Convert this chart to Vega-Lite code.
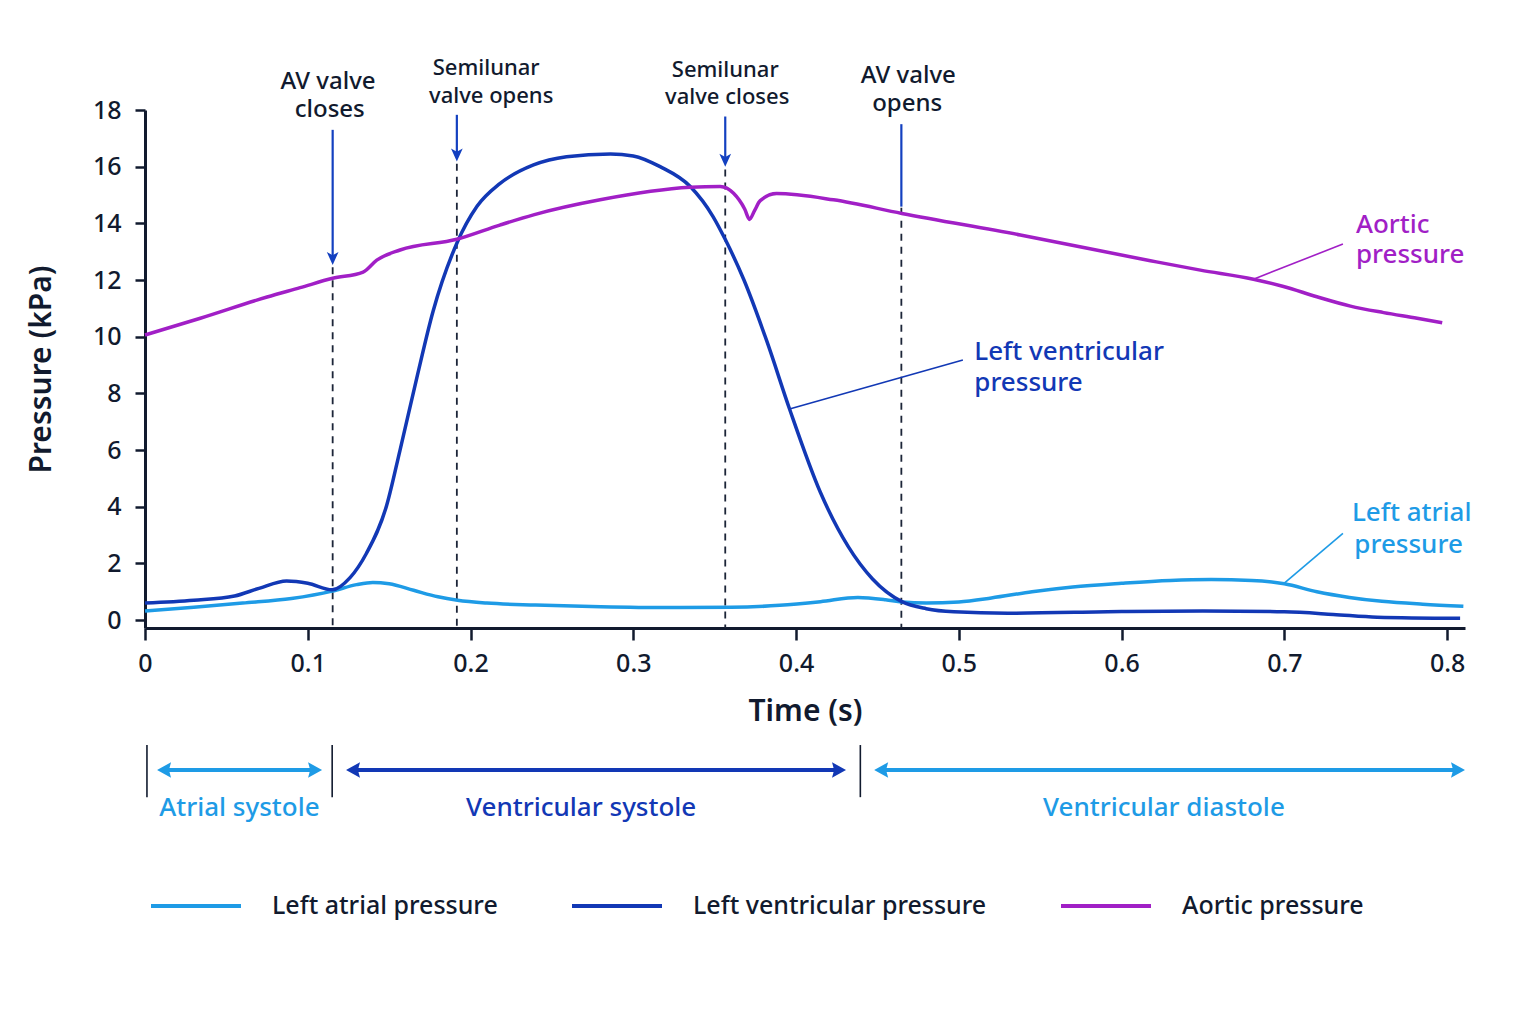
{
  "$schema": "https://vega.github.io/schema/vega-lite/v6.json",
  "width": 1320,
  "height": 518,
  "autosize": {"type": "none"},
  "padding": {"left": 145, "top": 110, "right": 71, "bottom": 396},
  "background": "white",
  "config": {
    "view": {"stroke": null},
    "font": "Noto Sans",
    "text": {"font": "Noto Sans"}
  },
  "datasets": {
    "curves": [
      {"series": "Left atrial pressure", "t": 0, "p": 0.32},
      {"series": "Left atrial pressure", "t": 0.03, "p": 0.45},
      {"series": "Left atrial pressure", "t": 0.06, "p": 0.6},
      {"series": "Left atrial pressure", "t": 0.09, "p": 0.76},
      {"series": "Left atrial pressure", "t": 0.115, "p": 1.02},
      {"series": "Left atrial pressure", "t": 0.13, "p": 1.25},
      {"series": "Left atrial pressure", "t": 0.14, "p": 1.33},
      {"series": "Left atrial pressure", "t": 0.15, "p": 1.28},
      {"series": "Left atrial pressure", "t": 0.165, "p": 1.05},
      {"series": "Left atrial pressure", "t": 0.18, "p": 0.82},
      {"series": "Left atrial pressure", "t": 0.192, "p": 0.7},
      {"series": "Left atrial pressure", "t": 0.21, "p": 0.6},
      {"series": "Left atrial pressure", "t": 0.24, "p": 0.53},
      {"series": "Left atrial pressure", "t": 0.28, "p": 0.47},
      {"series": "Left atrial pressure", "t": 0.32, "p": 0.44},
      {"series": "Left atrial pressure", "t": 0.36, "p": 0.45},
      {"series": "Left atrial pressure", "t": 0.39, "p": 0.52},
      {"series": "Left atrial pressure", "t": 0.415, "p": 0.65},
      {"series": "Left atrial pressure", "t": 0.438, "p": 0.8},
      {"series": "Left atrial pressure", "t": 0.455, "p": 0.72},
      {"series": "Left atrial pressure", "t": 0.465, "p": 0.64},
      {"series": "Left atrial pressure", "t": 0.48, "p": 0.6},
      {"series": "Left atrial pressure", "t": 0.5, "p": 0.64},
      {"series": "Left atrial pressure", "t": 0.52, "p": 0.78},
      {"series": "Left atrial pressure", "t": 0.545, "p": 1.0},
      {"series": "Left atrial pressure", "t": 0.57, "p": 1.17},
      {"series": "Left atrial pressure", "t": 0.6, "p": 1.3},
      {"series": "Left atrial pressure", "t": 0.63, "p": 1.4},
      {"series": "Left atrial pressure", "t": 0.655, "p": 1.43},
      {"series": "Left atrial pressure", "t": 0.68, "p": 1.4},
      {"series": "Left atrial pressure", "t": 0.7, "p": 1.28},
      {"series": "Left atrial pressure", "t": 0.72, "p": 1.0},
      {"series": "Left atrial pressure", "t": 0.74, "p": 0.8},
      {"series": "Left atrial pressure", "t": 0.76, "p": 0.66},
      {"series": "Left atrial pressure", "t": 0.785, "p": 0.56},
      {"series": "Left atrial pressure", "t": 0.81, "p": 0.49},
      {"series": "Left ventricular pressure", "t": 0, "p": 0.6},
      {"series": "Left ventricular pressure", "t": 0.03, "p": 0.7},
      {"series": "Left ventricular pressure", "t": 0.055, "p": 0.85},
      {"series": "Left ventricular pressure", "t": 0.07, "p": 1.12},
      {"series": "Left ventricular pressure", "t": 0.087, "p": 1.38},
      {"series": "Left ventricular pressure", "t": 0.1, "p": 1.3},
      {"series": "Left ventricular pressure", "t": 0.115, "p": 1.07},
      {"series": "Left ventricular pressure", "t": 0.126, "p": 1.5},
      {"series": "Left ventricular pressure", "t": 0.136, "p": 2.35},
      {"series": "Left ventricular pressure", "t": 0.1485, "p": 4.05},
      {"series": "Left ventricular pressure", "t": 0.1567, "p": 6.0},
      {"series": "Left ventricular pressure", "t": 0.167, "p": 8.55},
      {"series": "Left ventricular pressure", "t": 0.177, "p": 10.9},
      {"series": "Left ventricular pressure", "t": 0.1916, "p": 13.3},
      {"series": "Left ventricular pressure", "t": 0.204, "p": 14.6},
      {"series": "Left ventricular pressure", "t": 0.218, "p": 15.4},
      {"series": "Left ventricular pressure", "t": 0.2387, "p": 16.06},
      {"series": "Left ventricular pressure", "t": 0.259, "p": 16.35},
      {"series": "Left ventricular pressure", "t": 0.286, "p": 16.45},
      {"series": "Left ventricular pressure", "t": 0.3, "p": 16.38},
      {"series": "Left ventricular pressure", "t": 0.3165, "p": 16.0},
      {"series": "Left ventricular pressure", "t": 0.335, "p": 15.3},
      {"series": "Left ventricular pressure", "t": 0.349, "p": 14.24},
      {"series": "Left ventricular pressure", "t": 0.3567, "p": 13.41},
      {"series": "Left ventricular pressure", "t": 0.368, "p": 12.0},
      {"series": "Left ventricular pressure", "t": 0.382, "p": 9.85},
      {"series": "Left ventricular pressure", "t": 0.396, "p": 7.45},
      {"series": "Left ventricular pressure", "t": 0.415, "p": 4.5},
      {"series": "Left ventricular pressure", "t": 0.432, "p": 2.6},
      {"series": "Left ventricular pressure", "t": 0.447, "p": 1.45},
      {"series": "Left ventricular pressure", "t": 0.465, "p": 0.65},
      {"series": "Left ventricular pressure", "t": 0.48, "p": 0.4},
      {"series": "Left ventricular pressure", "t": 0.497, "p": 0.29},
      {"series": "Left ventricular pressure", "t": 0.53, "p": 0.24},
      {"series": "Left ventricular pressure", "t": 0.6, "p": 0.3},
      {"series": "Left ventricular pressure", "t": 0.65, "p": 0.32},
      {"series": "Left ventricular pressure", "t": 0.7, "p": 0.29},
      {"series": "Left ventricular pressure", "t": 0.73, "p": 0.2},
      {"series": "Left ventricular pressure", "t": 0.757, "p": 0.1},
      {"series": "Left ventricular pressure", "t": 0.808, "p": 0.06},
      {"series": "Aortic pressure", "t": 0, "p": 10.06},
      {"series": "Aortic pressure", "t": 0.034, "p": 10.65},
      {"series": "Aortic pressure", "t": 0.075, "p": 11.4},
      {"series": "Aortic pressure", "t": 0.0953, "p": 11.73},
      {"series": "Aortic pressure", "t": 0.1153, "p": 12.06},
      {"series": "Aortic pressure", "t": 0.134, "p": 12.28},
      {"series": "Aortic pressure", "t": 0.1424, "p": 12.7},
      {"series": "Aortic pressure", "t": 0.1567, "p": 13.06},
      {"series": "Aortic pressure", "t": 0.1916, "p": 13.44},
      {"series": "Aortic pressure", "t": 0.218, "p": 13.94},
      {"series": "Aortic pressure", "t": 0.2387, "p": 14.3},
      {"series": "Aortic pressure", "t": 0.2796, "p": 14.83},
      {"series": "Aortic pressure", "t": 0.335, "p": 15.27},
      {"series": "Aortic pressure", "t": 0.3534, "p": 15.3},
      {"series": "Aortic pressure", "t": 0.3616, "p": 15.06},
      {"series": "Aortic pressure", "t": 0.3685, "p": 14.5},
      {"series": "Aortic pressure", "t": 0.3714, "p": 14.14},
      {"series": "Aortic pressure", "t": 0.3745, "p": 14.45},
      {"series": "Aortic pressure", "t": 0.378, "p": 14.8},
      {"series": "Aortic pressure", "t": 0.388, "p": 15.05},
      {"series": "Aortic pressure", "t": 0.423, "p": 14.83},
      {"series": "Aortic pressure", "t": 0.465, "p": 14.35},
      {"series": "Aortic pressure", "t": 0.5378, "p": 13.59},
      {"series": "Aortic pressure", "t": 0.6177, "p": 12.68},
      {"series": "Aortic pressure", "t": 0.6484, "p": 12.35},
      {"series": "Aortic pressure", "t": 0.681, "p": 12.03},
      {"series": "Aortic pressure", "t": 0.6995, "p": 11.77},
      {"series": "Aortic pressure", "t": 0.72, "p": 11.41},
      {"series": "Aortic pressure", "t": 0.7406, "p": 11.08},
      {"series": "Aortic pressure", "t": 0.761, "p": 10.85},
      {"series": "Aortic pressure", "t": 0.7816, "p": 10.65},
      {"series": "Aortic pressure", "t": 0.797, "p": 10.49}
    ],
    "guides": [
      {"event": "AV valve closes", "t": 0.1153, "p": 12.45, "p2": -0.28},
      {"event": "Semilunar valve opens", "t": 0.1916, "p": 16.1, "p2": -0.28},
      {"event": "Semilunar valve closes", "t": 0.3565, "p": 15.9, "p2": -0.28},
      {"event": "AV valve opens", "t": 0.4647, "p": 14.55, "p2": -0.28}
    ],
    "arrows": [
      {"event": "AV valve closes", "t": 0.1153, "p": 17.3, "p2": 12.8},
      {"event": "Semilunar valve opens", "t": 0.1916, "p": 17.83, "p2": 16.4},
      {"event": "Semilunar valve closes", "t": 0.3565, "p": 17.77, "p2": 16.25},
      {"event": "AV valve opens", "t": 0.4647, "p": 17.5, "p2": 14.59}
    ],
    "heads": [
      {"event": "AV valve closes", "t": 0.1153, "p": 12.53},
      {"event": "Semilunar valve opens", "t": 0.1916, "p": 16.18},
      {"event": "Semilunar valve closes", "t": 0.3565, "p": 16.0}
    ],
    "notes": [
      {"text": "AV valve", "group": "av", "t": 0.1125, "p": 18.99},
      {"text": "closes", "group": "av", "t": 0.1135, "p": 18.0},
      {"text": "Semilunar", "group": "semi", "t": 0.2096, "p": 19.48},
      {"text": "valve opens", "group": "semi", "t": 0.2127, "p": 18.5},
      {"text": "Semilunar", "group": "semi", "t": 0.3565, "p": 19.41},
      {"text": "valve closes", "group": "semi", "t": 0.3577, "p": 18.46},
      {"text": "AV valve", "group": "av", "t": 0.469, "p": 19.2},
      {"text": "opens", "group": "av", "t": 0.4683, "p": 18.21}
    ],
    "leaders": [
      {"series": "Aortic pressure", "t": 0.681, "p": 12.03, "t2": 0.736, "p2": 13.27},
      {"series": "Left ventricular pressure", "t": 0.396, "p": 7.45, "t2": 0.5025, "p2": 9.18},
      {"series": "Left atrial pressure", "t": 0.7, "p": 1.3, "t2": 0.736, "p2": 3.06}
    ],
    "serieslabels": [
      {"series": "Aortic pressure", "text": "Aortic", "t": 0.744, "p": 13.94},
      {"series": "Aortic pressure", "text": "pressure", "t": 0.744, "p": 12.88},
      {"series": "Left ventricular pressure", "text": "Left ventricular", "t": 0.5095, "p": 9.46},
      {"series": "Left ventricular pressure", "text": "pressure", "t": 0.5095, "p": 8.37},
      {"series": "Left atrial pressure", "text": "Left atrial", "t": 0.7415, "p": 3.78},
      {"series": "Left atrial pressure", "text": "pressure", "t": 0.743, "p": 2.65}
    ],
    "separators": [
      {"t": 0.0012, "p": -4.41, "p2": -6.25},
      {"t": 0.115, "p": -4.41, "p2": -6.25},
      {"t": 0.4395, "p": -4.41, "p2": -6.25}
    ],
    "phases": [
      {"phase": "Atrial systole", "tone": "light", "t": 0.011, "t2": 0.105, "p": -5.29},
      {"phase": "Ventricular systole", "tone": "dark", "t": 0.127, "t2": 0.427, "p": -5.29},
      {"phase": "Ventricular diastole", "tone": "light", "t": 0.451, "t2": 0.807, "p": -5.29}
    ],
    "phaseheads": [
      {"tone": "light", "dir": "left", "t": 0.0074, "p": -5.29},
      {"tone": "light", "dir": "right", "t": 0.1088, "p": -5.29},
      {"tone": "dark", "dir": "left", "t": 0.1235, "p": -5.29},
      {"tone": "dark", "dir": "right", "t": 0.4307, "p": -5.29},
      {"tone": "light", "dir": "left", "t": 0.448, "p": -5.29},
      {"tone": "light", "dir": "right", "t": 0.811, "p": -5.29}
    ],
    "phaselabels": [
      {"text": "Atrial systole", "tone": "light", "t": 0.058, "p": -6.64},
      {"text": "Ventricular systole", "tone": "dark", "t": 0.268, "p": -6.64},
      {"text": "Ventricular diastole", "tone": "light", "t": 0.626, "p": -6.64}
    ]
  },
  "encoding": {
    "x": {
      "field": "t",
      "type": "quantitative",
      "scale": {"domain": [0, 0.811], "nice": false, "zero": false},
      "axis": {
        "title": "Time (s)",
        "values": [0, 0.1, 0.2, 0.3, 0.4, 0.5, 0.6, 0.7, 0.8],
        "format": "~g",
        "grid": false,
        "domainColor": "#111a2e",
        "domainWidth": 3,
        "tickColor": "#111a2e",
        "tickWidth": 2.5,
        "tickSize": 12,
        "labelFont": "Noto Sans",
        "labelFontSize": 25,
        "labelFontWeight": 500,
        "labelColor": "#111a2e",
        "labelPadding": 11,
        "labelFlush": false,
        "titleFont": "Noto Sans",
        "titleFontSize": 30,
        "titleFontWeight": 600,
        "titleColor": "#111a2e",
        "titlePadding": 20
      }
    },
    "y": {
      "field": "p",
      "type": "quantitative",
      "scale": {"domain": [-0.28, 18], "nice": false, "zero": false},
      "axis": {
        "title": "Pressure (kPa)",
        "values": [0, 2, 4, 6, 8, 10, 12, 14, 16, 18],
        "grid": false,
        "domainColor": "#111a2e",
        "domainWidth": 3,
        "tickColor": "#111a2e",
        "tickWidth": 2.5,
        "tickSize": 10,
        "labelFont": "Noto Sans",
        "labelFontSize": 25,
        "labelFontWeight": 500,
        "labelColor": "#111a2e",
        "labelPadding": 14,
        "titleFont": "Noto Sans",
        "titleFontSize": 30,
        "titleFontWeight": 600,
        "titleColor": "#111a2e",
        "titlePadding": 36
      }
    }
  },
  "layer": [
    {
      "data": {"name": "guides"},
      "mark": {"type": "rule", "strokeDash": [7, 6], "strokeWidth": 1.8, "color": "#1c2538"},
      "encoding": {"y2": {"field": "p2"}}
    },
    {
      "data": {"name": "arrows"},
      "mark": {"type": "rule", "strokeWidth": 2.2, "color": "#1340c0"},
      "encoding": {"y2": {"field": "p2"}}
    },
    {
      "data": {"name": "heads"},
      "mark": {"type": "point", "shape": "M0,0L-0.9,-2L0,-1.5L0.9,-2Z", "size": 169, "filled": true, "opacity": 1, "color": "#1340c0", "strokeWidth": 0},
      "encoding": {}
    },
    {
      "data": {"name": "curves"},
      "mark": {"type": "line", "interpolate": "monotone", "strokeWidth": 3.5},
      "encoding": {
        "color": {
          "field": "series",
          "type": "nominal",
          "scale": {
            "domain": ["Left atrial pressure", "Left ventricular pressure", "Aortic pressure"],
            "range": ["#1e9be6", "#1238b5", "#a11fc6"]
          },
          "legend": {
            "orient": "none",
            "legendX": 4,
            "legendY": 749,
            "direction": "horizontal",
            "title": null,
            "symbolType": "stroke",
            "symbolSize": 8100,
            "symbolStrokeWidth": 4,
            "labelFont": "Noto Sans",
            "labelFontSize": 25,
            "labelFontWeight": 500,
            "labelColor": "#111a2e",
            "labelLimit": 500,
            "labelOffset": 29,
            "columnPadding": 66
          }
        }
      }
    },
    {
      "data": {"name": "leaders"},
      "mark": {"type": "rule", "strokeWidth": 1.6},
      "encoding": {
        "x2": {"field": "t2"},
        "y2": {"field": "p2"},
        "color": {"field": "series", "type": "nominal", "legend": null}
      }
    },
    {
      "data": {"name": "serieslabels"},
      "mark": {"type": "text", "align": "left", "baseline": "middle", "fontSize": 26, "fontWeight": 500},
      "encoding": {
        "text": {"field": "text"},
        "color": {"field": "series", "type": "nominal", "legend": null}
      }
    },
    {
      "data": {"name": "notes"},
      "transform": [{"filter": "datum.group === 'av'"}],
      "mark": {"type": "text", "align": "center", "baseline": "middle", "fontSize": 24, "fontWeight": 500, "color": "#111a2e"},
      "encoding": {"text": {"field": "text"}}
    },
    {
      "data": {"name": "notes"},
      "transform": [{"filter": "datum.group === 'semi'"}],
      "mark": {"type": "text", "align": "center", "baseline": "middle", "fontSize": 22, "fontWeight": 500, "color": "#111a2e"},
      "encoding": {"text": {"field": "text"}}
    },
    {
      "data": {"name": "separators"},
      "mark": {"type": "rule", "strokeWidth": 1.6, "color": "#111a2e"},
      "encoding": {"y2": {"field": "p2"}}
    },
    {
      "data": {"name": "phases"},
      "mark": {"type": "rule", "strokeWidth": 4},
      "encoding": {
        "x2": {"field": "t2"},
        "stroke": {
          "field": "tone",
          "type": "nominal",
          "scale": {"domain": ["light", "dark"], "range": ["#1e9be6", "#1238b5"]},
          "legend": null
        }
      }
    },
    {
      "data": {"name": "phaseheads"},
      "transform": [{"filter": "datum.dir === 'left'"}],
      "mark": {"type": "point", "shape": "M0,0L2,-1.1L1.7,0L2,1.1Z", "size": 196, "filled": true, "opacity": 1, "strokeWidth": 0},
      "encoding": {
        "fill": {
          "field": "tone",
          "type": "nominal",
          "scale": {"domain": ["light", "dark"], "range": ["#1e9be6", "#1238b5"]},
          "legend": null
        }
      }
    },
    {
      "data": {"name": "phaseheads"},
      "transform": [{"filter": "datum.dir === 'right'"}],
      "mark": {"type": "point", "shape": "M0,0L-2,-1.1L-1.7,0L-2,1.1Z", "size": 196, "filled": true, "opacity": 1, "strokeWidth": 0},
      "encoding": {
        "fill": {"field": "tone", "type": "nominal", "legend": null}
      }
    },
    {
      "data": {"name": "phaselabels"},
      "mark": {"type": "text", "align": "center", "baseline": "middle", "fontSize": 26, "fontWeight": 500},
      "encoding": {
        "text": {"field": "text"},
        "fill": {"field": "tone", "type": "nominal", "legend": null}
      }
    }
  ]
}
